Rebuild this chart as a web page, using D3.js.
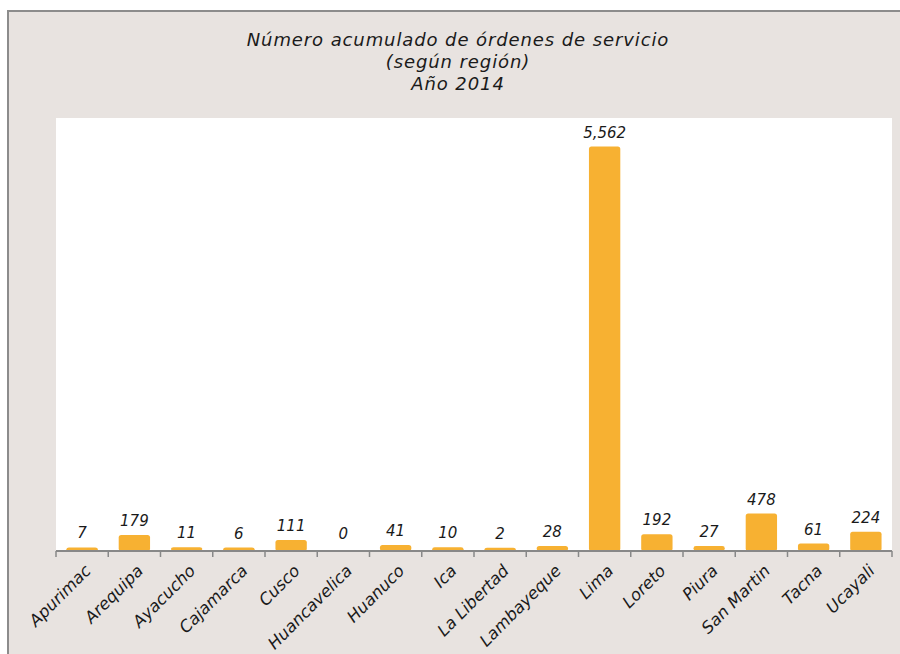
<!DOCTYPE html>
<html>
<head>
<meta charset="utf-8">
<script src="https://cdn.jsdelivr.net/npm/d3@7"></script>
<style>
  html, body { margin: 0; padding: 0; background: #ffffff; }
  svg { display: block; }
  text { font-family: "DejaVu Sans", sans-serif; font-style: italic; }
</style>
</head>
<body>
<svg id="chart" width="900" height="654"></svg>
<script>
const categories = ["Apurimac","Arequipa","Ayacucho","Cajamarca","Cusco","Huancavelica","Huanuco","Ica","La Libertad","Lambayeque","Lima","Loreto","Piura","San Martin","Tacna","Ucayali"];
const values = [7,179,11,6,111,0,41,10,2,28,5562,192,27,478,61,224];
const titleLines = ["Número acumulado de órdenes de servicio","(según región)","Año 2014"];

const svg = d3.select("#chart");
const W = 900, H = 654;

// outer frame
svg.append("rect").attr("x", 0).attr("y", 0).attr("width", W).attr("height", H).attr("fill", "#ffffff");
svg.append("rect").attr("x", 8).attr("y", 11).attr("width", W + 10).attr("height", H + 10)
  .attr("fill", "#e8e3e0").attr("stroke", "#8c8c8c").attr("stroke-width", 2);

const plot = {left: 56, right: 892, top: 118, bottom: 551};

svg.append("rect").attr("x", plot.left).attr("y", plot.top)
  .attr("width", plot.right - plot.left).attr("height", plot.bottom - plot.top)
  .attr("fill", "#ffffff");

const x = d3.scaleBand().domain(categories).range([plot.left, plot.right]).paddingInner(0.4).paddingOuter(0.2);
const y = d3.scaleLinear().domain([0, 6000]).range([plot.bottom, plot.top]);

// title
svg.append("g").selectAll("text").data(titleLines).join("text")
  .attr("x", 458).attr("y", (d, i) => 46 + i * 22)
  .attr("text-anchor", "middle").attr("font-size", 18).attr("letter-spacing", 0.9)
  .attr("fill", "#1a1a1a")
  .text(d => d);

// bars (with a 3px border in the same colour, like the original)
const barBorder = 3;
svg.append("g").selectAll("rect").data(categories).join("rect")
  .attr("x", d => x(d))
  .attr("width", x.bandwidth())
  .attr("y", (d, i) => y(values[i]) - barBorder)
  .attr("height", (d, i) => plot.bottom - y(values[i]) + barBorder)
  .attr("rx", 2.5)
  .attr("fill", "#f7b132")
  .attr("display", (d, i) => values[i] > 0 ? null : "none");

// value labels
svg.append("g").selectAll("text").data(categories).join("text")
  .attr("x", d => x(d) + x.bandwidth() / 2)
  .attr("y", (d, i) => y(values[i]) - 12)
  .attr("text-anchor", "middle").attr("font-size", 15).attr("fill", "#1a1a1a")
  .text((d, i) => d3.format(",")(values[i]));

// x axis line and ticks
const axisG = svg.append("g");
axisG.append("line").attr("x1", plot.left).attr("x2", plot.right)
  .attr("y1", plot.bottom).attr("y2", plot.bottom)
  .attr("stroke", "#888888").attr("stroke-width", 2);
const tickPos = d3.range(categories.length + 1).map(i => plot.left + i * (plot.right - plot.left) / categories.length);
axisG.selectAll("line.tick").data(tickPos).join("line").attr("class", "tick")
  .attr("x1", d => d).attr("x2", d => d)
  .attr("y1", plot.bottom).attr("y2", plot.bottom + 6)
  .attr("stroke", "#888888").attr("stroke-width", 1.5);

// category labels
axisG.selectAll("text").data(categories).join("text")
  .attr("transform", d => `translate(${x(d) + x.bandwidth() / 2 + 1},${plot.bottom + 12}) rotate(-45)`)
  .attr("text-anchor", "end").attr("dy", "0.75em")
  .attr("font-size", 16.5).attr("fill", "#1a1a1a")
  .text(d => d);
</script>
</body>
</html>
